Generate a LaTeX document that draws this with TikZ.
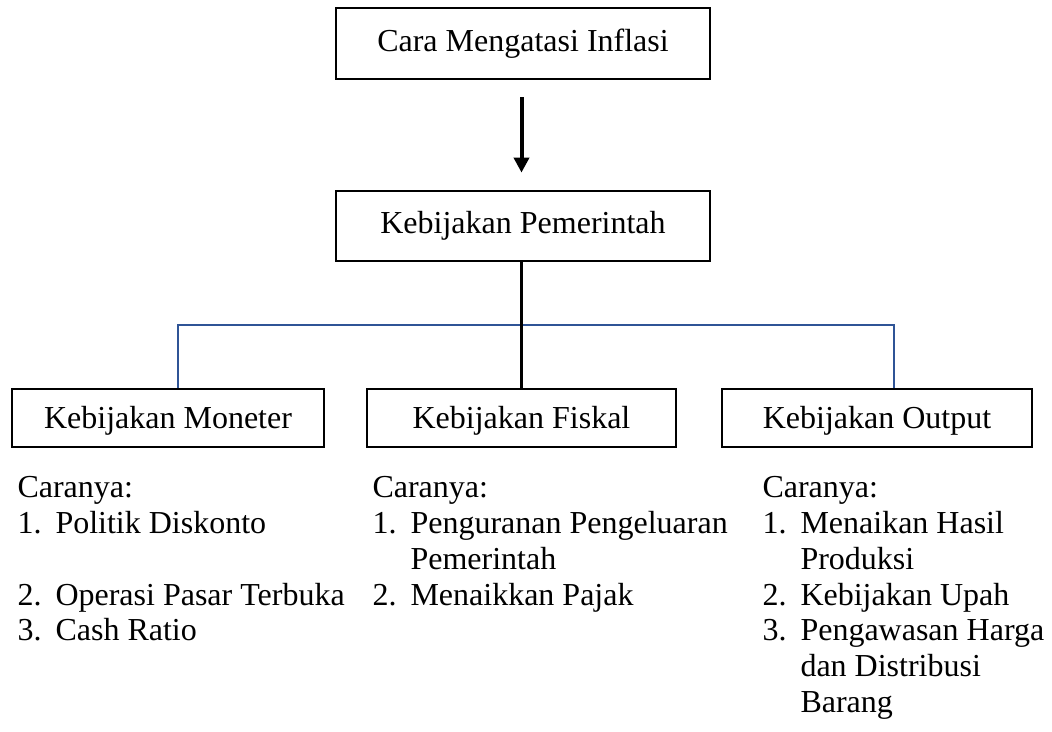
\documentclass[tikz,border=0pt]{standalone}
\usepackage{fontspec}
\setmainfont{Liberation Serif}
\usetikzlibrary{arrows.meta}
\newcommand{\InflasiPx}{0.375pt}
\newcommand{\InflasiNomor}{14.25pt}
\definecolor{garisbiru}{RGB}{47,84,150}

\begin{document}
	\begin{tikzpicture}[x=\InflasiPx, y=-\InflasiPx,
		kotak/.style={draw, line width=1pt, inner sep=0pt, font=\fontsize{12}{13.4}\selectfont},
		kotakbawah/.style={kotak, minimum height=58*\InflasiPx, text height=7.9pt, text depth=0pt},
		daftar/.style={anchor=base west, inner sep=0pt, font=\fontsize{12}{13.4}\selectfont},
		garis/.style={line width=0.8pt},
		biru/.style={draw=garisbiru, line width=0.8pt},
		panah/.style={line width=1.5pt, -{Triangle[width=5.6pt,length=5.6pt]}, shorten <=6.4pt, shorten >=6.4pt}]
		\useasboundingbox (0,0) rectangle (1052,732);
		\node[kotak, minimum width=374*\InflasiPx, minimum height=71*\InflasiPx] (a1) at (523,43.5) {Cara Mengatasi Inflasi};
		\node[kotak, minimum width=374*\InflasiPx, minimum height=70*\InflasiPx] (a2) at (523,226) {Kebijakan Pemerintah};
		\node[kotakbawah, minimum width=312*\InflasiPx] (b1) at (168,418) {Kebijakan Moneter};
		\node[kotakbawah, minimum width=309*\InflasiPx] (b2) at (521.5,418) {Kebijakan Fiskal};
		\node[kotakbawah, minimum width=310*\InflasiPx] (b3) at (877,418) {Kebijakan Output};
		\coordinate (k1) at (178,325);
		\coordinate (k3) at (894,325);
		% cabang ke tiga kebijakan
		\draw[biru] (b1.north -| k1) -- (k1) -- (k3) -- (b3.north -| k3);
		\draw[garis] (a2.south -| b2.north) -- (b2.north);
		\draw[panah] (a1.south -| b2.north) -- (a2.north -| b2.north);
		% daftar caranya
		\node[daftar] (c1) at (17,498) {\begin{tabular}[t]{@{}p{\InflasiNomor}@{}l@{}}
			\multicolumn{2}{@{}l@{}}{Caranya:}\\
			1. & Politik Diskonto\\
			& \\
			2. & Operasi Pasar Terbuka\\
			3. & Cash Ratio
		\end{tabular}};
		\node[daftar] (c2) at (372,498) {\begin{tabular}[t]{@{}p{\InflasiNomor}@{}l@{}}
			\multicolumn{2}{@{}l@{}}{Caranya:}\\
			1. & Penguranan Pengeluaran\\
			& Pemerintah\\
			2. & Menaikkan Pajak
		\end{tabular}};
		\node[daftar] (c3) at (762,498) {\begin{tabular}[t]{@{}p{\InflasiNomor}@{}l@{}}
			\multicolumn{2}{@{}l@{}}{Caranya:}\\
			1. & Menaikan Hasil\\
			& Produksi\\
			2. & Kebijakan Upah\\
			3. & Pengawasan Harga\\
			& dan Distribusi\\
			& Barang
		\end{tabular}};
	\end{tikzpicture}
\end{document}
